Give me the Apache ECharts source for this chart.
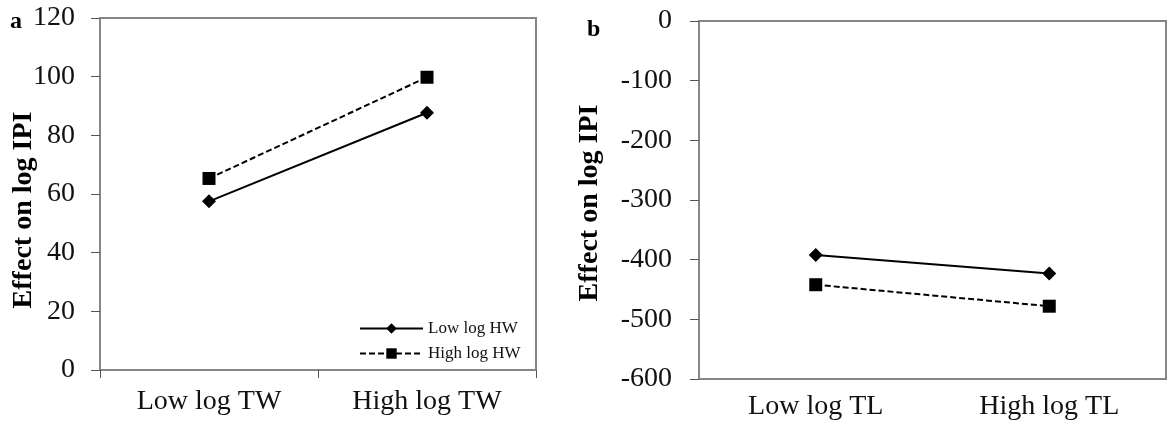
<!DOCTYPE html>
<html>
<head>
<meta charset="utf-8">
<script src="https://cdn.jsdelivr.net/npm/echarts@6/dist/echarts.min.js"></script>
<style>
html,body{margin:0;padding:0;background:#fff;}
#chart{width:1168px;height:424px;}
</style>
</head>
<body>
<div id="chart"></div>
<script>
// Panel a
const catsA = ['Low log TW', 'High log TW'];
const lowHW_A = [57.5, 87.7];
const highHW_A = [65.3, 99.8];
// Panel b
const catsB = ['Low log TL', 'High log TL'];
const lowHW_B = [-392, -423];
const highHW_B = [-442, -478];

const seriesNames = ['Low log HW', 'High log HW'];
const yTitle = 'Effect on log IPI';

const FONT = '"Liberation Serif", "Times New Roman", serif';
const AX = '#868686';

const chart = echarts.init(document.getElementById('chart'));

function yAxisCfg(gridIndex, min, max, interval, nameGap, pad, margin) {
  return {
    type: 'value', gridIndex, min, max, interval,
    name: yTitle, nameLocation: 'middle', nameGap, nameMoveOverlap: false,
    nameTextStyle: { fontFamily: FONT, fontSize: 28, fontWeight: 'bold', color: '#000', padding: pad },
    axisLine: { show: true, lineStyle: { color: AX, width: 2 } },
    axisTick: { show: true, length: 9, lineStyle: { color: '#555', width: 1 } },
    axisLabel: { fontFamily: FONT, fontSize: 28, color: '#111', margin },
    splitLine: { show: false }
  };
}

function xAxisCfg(gridIndex, data, ticks, margin) {
  return {
    type: 'category', gridIndex, data, boundaryGap: true,
    axisLine: { show: true, onZero: false, lineStyle: { color: AX, width: 2 } },
    axisTick: { show: ticks, length: 8, alignWithLabel: false, lineStyle: { color: '#555', width: 1 } },
    axisLabel: { fontFamily: FONT, fontSize: 28, color: '#111', margin },
    splitLine: { show: false }
  };
}

const solid = { color: '#000', width: 2, type: 'solid' };
const dashed = { color: '#000', width: 2, type: [6, 3] };

chart.setOption({
  animation: false,
  backgroundColor: '#fff',
  grid: [
    { left: 100, right: 632, top: 18, bottom: 54, show: true, borderColor: AX, borderWidth: 2 },
    { left: 699, right: 2, top: 21, bottom: 45, show: true, borderColor: AX, borderWidth: 2 }
  ],
  xAxis: [ xAxisCfg(0, catsA, true, 18), xAxisCfg(1, catsB, false, 14) ],
  yAxis: [
    yAxisCfg(0, 0, 120, 20, 62, [0, 32, 0, 0], 25),
    yAxisCfg(1, -600, 0, 100, 95, [0, 6, 0, 0], 27)
  ],
  legend: {
    data: seriesNames,
    orient: 'vertical',
    left: 354, top: 315,
    itemWidth: 63, itemHeight: 13, itemGap: 8,
    textStyle: { fontFamily: FONT, fontSize: 17, color: '#111' },
    inactiveColor: '#000'
  },
  graphic: [
    { type: 'text', left: 10, top: 10, style: { text: 'a', font: 'bold 24px ' + FONT, fill: '#000' } },
    { type: 'text', left: 587, top: 18, style: { text: 'b', font: 'bold 24px ' + FONT, fill: '#000' } }
  ],
  series: [
    { name: seriesNames[0], type: 'line', xAxisIndex: 0, yAxisIndex: 0, data: lowHW_A,
      symbol: 'diamond', symbolSize: 14, lineStyle: solid, itemStyle: { color: '#000' } },
    { name: seriesNames[1], type: 'line', xAxisIndex: 0, yAxisIndex: 0, data: highHW_A,
      symbol: 'rect', symbolSize: 13, lineStyle: dashed, itemStyle: { color: '#000' } },
    { name: seriesNames[0], type: 'line', xAxisIndex: 1, yAxisIndex: 1, data: lowHW_B,
      symbol: 'diamond', symbolSize: 14, lineStyle: solid, itemStyle: { color: '#000' } },
    { name: seriesNames[1], type: 'line', xAxisIndex: 1, yAxisIndex: 1, data: highHW_B,
      symbol: 'rect', symbolSize: 13, lineStyle: dashed, itemStyle: { color: '#000' } }
  ]
});
</script>
</body>
</html>
